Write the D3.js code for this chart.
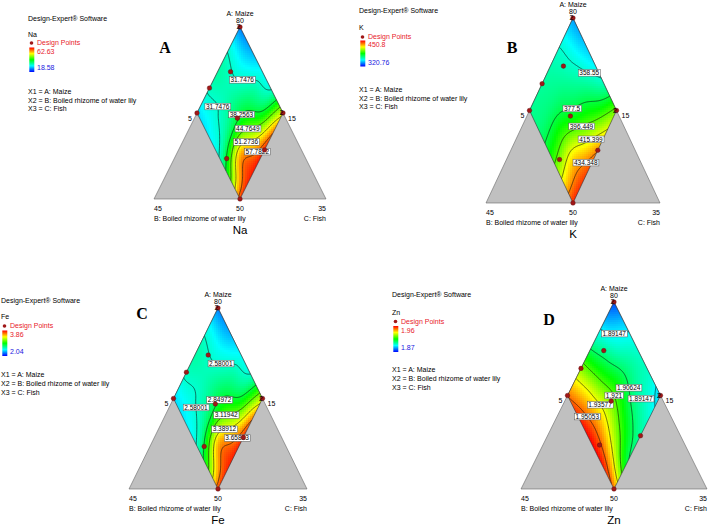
<!DOCTYPE html>
<html>
<head>
<meta charset="utf-8">
<script src="https://cdn.jsdelivr.net/npm/d3@7"></script>
<style>
  body { margin: 0; background: #fff; }
  svg { display: block; font-family: "Liberation Sans", Arial, sans-serif; }
</style>
</head>
<body>
<svg id="chart" width="709" height="526"></svg>
<script>
// Response on a 5x5 grid over the feasible region.
// rows: u = 0, .25, .5, .75, 1 (apex -> left corner), cols: v = 0 .. 1 (apex -> right corner)
const naGrid = [
  [24, 26, 29.5, 32.5, 50],
  [31, 30.5, 34, 39, 58],
  [33.5, 33, 37.5, 48, 61.5],
  [31.9, 31.8, 36.5, 55, 61.5],
  [28, 29, 31.5, 42.5, 60]
];
const kGrid = [
  [340, 345, 352, 366, 400],
  [356, 359, 368, 386, 419],
  [363, 368, 379, 405, 437],
  [366, 372, 392, 422, 444],
  [367, 372, 389, 417, 447]
];
const feGrid = [
  [2.26, 2.34, 2.49, 2.61, 3.30],
  [2.54, 2.53, 2.67, 2.88, 3.67],
  [2.65, 2.63, 2.82, 3.25, 3.81],
  [2.59, 2.58, 2.78, 3.54, 3.81],
  [2.43, 2.47, 2.57, 3.03, 3.75]
];
const znGrid = [
  [1.876, 1.889, 1.896, 1.897, 1.887],
  [1.889, 1.898, 1.905, 1.901, 1.896],
  [1.906, 1.915, 1.921, 1.913, 1.902],
  [1.930, 1.937, 1.940, 1.931, 1.911],
  [1.950, 1.957, 1.960, 1.958, 1.948]
];

const naLevels = [31.7476, 38.2563, 44.7649, 51.2736, 57.7822];
const kLevels = [358.55, 377.5, 396.449, 415.399, 434.348];
const feLevels = [2.58001, 2.84972, 3.11942, 3.38912, 3.65883];
const znLevels = [1.89147, 1.90624, 1.921, 1.93577, 1.95053];

const naRange = [18.58, 62.63];
const kRange = [320.76, 450.8];
const feRange = [2.04, 3.86];
const znRange = [1.87, 1.96];

// design runs in (u, v); the two corner runs are replicated
const designPoints = [[0, 0], [0.37, 0.15], [0.71, 0], [1, 0], [0.56, 0.5], [0, 1], [0.43, 1], [0.92, 0.61], [1, 1]];
const replicated = [[0, 0], [0, 1]];

const apexTick = '80';
const sideTicks = ['5', '15'];
const baseTicks = ['45', '50', '35'];
const axisNames = ['A: Maize', 'B: Boiled rhizome of water lily', 'C: Fish'];
const legendLines = ['X1 = A: Maize', 'X2 = B: Boiled rhizome of water lily', 'X3 = C: Fish'];
const palette = ['#0000ff', '#00ffff', '#00ff00', '#ffff00', '#ff0000'];

const panels = [
  { letter: 'A', name: 'Na', grid: naGrid, levels: naLevels, range: naRange,
    apex: [240, 27], halfBase: 86, height: 172, letterPos: [165, 53],
    legend: { x: 28, de: 19, name: 35, dp: 43, max: 52, min: 68, x1: 92, x2: 100.5, x3: 109 } },
  { letter: 'B', name: 'K', grid: kGrid, levels: kLevels, range: kRange,
    apex: [573, 18], halfBase: 87, height: 185, letterPos: [512, 53],
    legend: { x: 359, de: 11, name: 28, dp: 37, max: 45, min: 62.5, x1: 90, x2: 98.5, x3: 107 } },
  { letter: 'C', name: 'Fe', grid: feGrid, levels: feLevels, range: feRange,
    apex: [218, 308], halfBase: 89, height: 181, letterPos: [142, 319],
    legend: { x: 1, de: 300.5, name: 317, dp: 326, max: 335, min: 352, x1: 375, x2: 384, x3: 393 } },
  { letter: 'D', name: 'Zn', grid: znGrid, levels: znLevels, range: znRange,
    apex: [614, 302], halfBase: 93, height: 187, letterPos: [549, 325],
    legend: { x: 392, de: 295, name: 312.5, dp: 321.5, max: 330.5, min: 348, x1: 370, x2: 379, x3: 388 } }
];

// smooth (Catmull-Rom) surface through the read grid
function cr(p0, p1, p2, p3, t) {
  return 0.5 * (2 * p1 + (-p0 + p2) * t + (2 * p0 - 5 * p1 + 4 * p2 - p3) * t * t + (-p0 + 3 * p1 - 3 * p2 + p3) * t * t * t);
}
function interp1(arr, s) {
  const n = arr.length - 1;
  const x = s * n;
  const i = Math.min(Math.floor(x), n - 1);
  const t = x - i;
  const g = (k) => (k < 0 ? 2 * arr[0] - arr[1] : k > n ? 2 * arr[n] - arr[n - 1] : arr[k]);
  return cr(g(i - 1), g(i), g(i + 1), g(i + 2), t);
}
function surface(grid, u, v) {
  const col = grid.map((row) => interp1(row, v));
  return interp1(col, u);
}
const clamp01 = (t) => Math.max(0, Math.min(1, t));

const svg = d3.select('#chart');
const defs = svg.append('defs');

// legend gradient
const grad = defs.append('linearGradient').attr('id', 'legendGrad')
  .attr('x1', 0).attr('y1', 1).attr('x2', 0).attr('y2', 0);
palette.forEach((c, i) => grad.append('stop').attr('offset', i / (palette.length - 1)).attr('stop-color', c));

const N = 121;

panels.forEach((p, pi) => {
  const g = svg.append('g');
  const [ax, ay] = p.apex;
  const hb = p.halfBase, h = p.height;
  const xS = d3.scaleLinear().domain([-1, 1]).range([ax - hb / 2, ax + hb / 2]);
  const yS = d3.scaleLinear().domain([0, 2]).range([ay, ay + h]);
  const pos = (u, v) => [xS(v - u), yS(u + v)];
  const baseY = ay + h;
  const centre = pos(0.5, 0.5);
  const L = pos(1, 0), R = pos(0, 1);

  const [lo, hi] = p.range;
  const color = d3.scaleLinear()
    .domain(palette.map((c, i) => lo + (i * (hi - lo)) / (palette.length - 1)))
    .range(palette).clamp(true);

  // grey simplex
  g.append('path')
    .attr('d', `M${ax},${ay}L${ax - hb},${baseY}L${ax + hb},${baseY}Z`)
    .attr('fill', '#c0c0c0').attr('stroke', '#666').attr('stroke-width', 0.6);

  // clip to the feasible diamond
  const diamond = [pos(0, 0), L, pos(1, 1), R];
  defs.append('clipPath').attr('id', 'clip' + pi)
    .append('path').attr('d', 'M' + diamond.join('L') + 'Z');

  // colour raster
  const step = 2;
  const cells = [];
  for (let y = ay; y < baseY; y += step) {
    for (let x = ax - hb / 2; x < ax + hb / 2; x += step) {
      const d = xS.invert(x + step / 2), s = yS.invert(y + step / 2);
      const u = (s - d) / 2, v = (s + d) / 2;
      if (u < -0.06 || v < -0.06 || u > 1.06 || v > 1.06) continue;
      cells.push({ x, y, val: surface(p.grid, clamp01(u), clamp01(v)) });
    }
  }
  g.append('g').attr('clip-path', `url(#clip${pi})`)
    .selectAll('rect').data(cells).join('rect')
    .attr('x', (d) => d.x).attr('y', (d) => d.y)
    .attr('width', step).attr('height', step)
    .attr('shape-rendering', 'crispEdges')
    .attr('fill', (d) => color(d.val));

  // contours on the (u, v) grid
  const values = new Array(N * N);
  for (let j = 0; j < N; j++) {
    for (let i = 0; i < N; i++) {
      values[j * N + i] = surface(p.grid, j / (N - 1), i / (N - 1));
    }
  }
  const contours = d3.contours().size([N, N]).thresholds(p.levels)(values);
  const onBorder = (q) => q[0] <= 0 || q[0] >= N || q[1] <= 0 || q[1] >= N;
  const toScreen = (q) => pos(clamp01((q[1] - 0.5) / (N - 1)), clamp01((q[0] - 0.5) / (N - 1)));

  const lines = [];
  contours.forEach((c, ci) => {
    c.coordinates.forEach((poly) => poly.forEach((ring) => {
      const pts = ring.slice(0, -1);
      const n = pts.length;
      const flags = pts.map(onBorder);
      if (!flags.some((f) => f)) {
        lines.push({ level: p.levels[ci], pts: ring.map(toScreen) });
        return;
      }
      const start = flags.indexOf(true);
      let cur = null;
      for (let k = 1; k <= n; k++) {
        const idx = (start + k) % n;
        if (!flags[idx]) {
          if (!cur) cur = [pts[(idx - 1 + n) % n]];
          cur.push(pts[idx]);
        } else if (cur) {
          cur.push(pts[idx]);
          lines.push({ level: p.levels[ci], pts: cur.map(toScreen) });
          cur = null;
        }
      }
    }));
  });

  const lineGen = d3.line();
  const cg = g.append('g').attr('clip-path', `url(#clip${pi})`);
  cg.selectAll('path').data(lines).join('path')
    .attr('d', (d) => lineGen(d.pts))
    .attr('fill', 'none').attr('stroke', '#111').attr('stroke-width', 0.6);

  // diamond outline
  g.append('path').attr('d', 'M' + diamond.join('L') + 'Z')
    .attr('fill', 'none').attr('stroke', '#333').attr('stroke-width', 0.6);

  // side tick positions (kept clear of contour labels)
  const tickL = [L[0] - 5, L[1] + 5.5], tickR = [R[0] + 5, R[1] + 5.5];

  // contour labels: on each branch, at the point nearest the centre of the region,
  // slid along the line when it would cover another text
  lines.forEach((l) => {
    l.cum = [0];
    let total = 0;
    for (let k = 1; k < l.pts.length; k++) {
      total += Math.hypot(l.pts[k][0] - l.pts[k - 1][0], l.pts[k][1] - l.pts[k - 1][1]);
      l.cum.push(total);
    }
    l.total = total;
    let best = 0, bd = Infinity;
    l.pts.forEach((q, k) => {
      const dd = Math.hypot(q[0] - centre[0], q[1] - centre[1]);
      if (dd < bd) { bd = dd; best = k; }
    });
    l.near = l.cum[best];
    l.dist = bd;
  });
  const pointAt = (l, len) => {
    let k = l.cum.findIndex((c) => c >= len);
    if (k < 1) k = 1;
    const t = (len - l.cum[k - 1]) / (l.cum[k] - l.cum[k - 1] || 1);
    return [l.pts[k - 1][0] + t * (l.pts[k][0] - l.pts[k - 1][0]), l.pts[k - 1][1] + t * (l.pts[k][1] - l.pts[k - 1][1])];
  };
  const placed = [
    [tickL[0] - 5, tickL[1] - 3.5, tickL[0], tickL[1] + 3.5],
    [tickR[0], tickR[1] - 3.5, tickR[0] + 9, tickR[1] + 3.5]
  ];
  replicated.forEach((d) => {
    const q = pos(d[0], d[1]);
    placed.push([q[0] - 3.5, q[1] - 3.5, q[0] + 0.5, q[1] + 3.5]);
  });
  const hits = (box) => placed.some((b) => box[0] < b[2] + 1 && box[2] > b[0] - 1 && box[1] < b[3] + 0.5 && box[3] > b[1] - 0.5);
  const labels = [];
  lines.filter((l) => l.total >= 8).sort((a, b) => a.dist - b.dist).forEach((l) => {
    const text = String(l.level);
    const w = text.length * 3.62 + 2, hh = 7;
    const lo2 = Math.min(w / 2, l.total / 2), hi2 = Math.max(l.total - w / 2, l.total / 2);
    let chosen = null;
    for (let k = 0; k < 40 && !chosen; k++) {
      const off = (k % 2 ? 1 : -1) * Math.ceil(k / 2) * 3;
      const len = l.near + off;
      if (len < lo2 || len > hi2) continue;
      const q = pointAt(l, len);
      const box = [q[0] - w / 2, q[1] - hh / 2, q[0] + w / 2, q[1] + hh / 2];
      if (!hits(box)) { chosen = q; placed.push(box); }
    }
    if (!chosen) {
      // short branch: shift the label into nearby free space
      const q = pointAt(l, l.total / 2);
      for (const dy of [-2, 2, 4, -5, 6]) {
        for (let dx = 0; dx <= 30 && !chosen; dx += 2) {
          const c = [q[0] - dx, q[1] + dy];
          const box = [c[0] - w / 2, c[1] - hh / 2, c[0] + w / 2, c[1] + hh / 2];
          if (!hits(box)) { chosen = c; placed.push(box); }
        }
        if (chosen) break;
      }
      if (!chosen) chosen = q;
    }
    labels.push({ text, x: chosen[0], y: chosen[1] });
  });
  const lg = g.append('g').selectAll('g').data(labels).join('g')
    .attr('transform', (d) => `translate(${d.x},${d.y})`);
  lg.append('text').attr('text-anchor', 'middle').attr('dy', '0.35em')
    .attr('font-size', 6.5).attr('fill', '#000').text((d) => d.text)
    .each(function () {
      const b = this.getBBox();
      d3.select(this.parentNode).insert('rect', 'text')
        .attr('x', b.x - 1).attr('y', -3.3).attr('width', b.width + 2).attr('height', 6.6)
        .attr('fill', '#fff').attr('stroke', '#555').attr('stroke-width', 0.5);
    });

  // design points
  g.append('g').selectAll('circle').data(designPoints).join('circle')
    .attr('cx', (d) => pos(d[0], d[1])[0]).attr('cy', (d) => pos(d[0], d[1])[1])
    .attr('r', 2.3).attr('fill', '#a01818').attr('stroke', '#5a0a0a').attr('stroke-width', 0.4);
  g.append('g').selectAll('text').data(replicated).join('text')
    .attr('x', (d) => pos(d[0], d[1])[0] + 0.5).attr('y', (d) => pos(d[0], d[1])[1])
    .attr('dy', '0.35em').attr('text-anchor', 'end').attr('font-size', 7).text('2');

  // axis text
  const txt = (x, y, s, anchor, size) => g.append('text').attr('x', x).attr('y', y).attr('dy', '0.35em')
    .attr('text-anchor', anchor).attr('font-size', size || 7).attr('fill', '#000').text(s);
  txt(ax, ay - 13.5, axisNames[0], 'middle');
  txt(ax, ay - 6.5, apexTick, 'middle');
  txt(tickL[0], tickL[1], sideTicks[0], 'end');
  txt(tickR[0], tickR[1], sideTicks[1], 'start');
  txt(ax - hb, baseY + 10, baseTicks[0], 'start');
  txt(ax, baseY + 10, baseTicks[1], 'middle');
  txt(ax + hb, baseY + 10, baseTicks[2], 'end');
  txt(ax - hb, baseY + 19.5, axisNames[1], 'start');
  txt(ax + hb, baseY + 19.5, axisNames[2], 'end');
  txt(ax, baseY + 31, p.name, 'middle', 11.5);

  // panel letter
  g.append('text').attr('x', p.letterPos[0]).attr('y', p.letterPos[1])
    .attr('text-anchor', 'middle').attr('font-family', '"Liberation Serif", "Times New Roman", serif')
    .attr('font-weight', 'bold').attr('font-size', 16).text(p.letter);

  // legend
  const lgd = p.legend;
  txt(lgd.x, lgd.de, 'Design-Expert® Software', 'start');
  txt(lgd.x, lgd.name, p.name, 'start');
  g.append('circle').attr('cx', lgd.x + 3.5).attr('cy', lgd.dp).attr('r', 1.8).attr('fill', '#a01818');
  txt(lgd.x + 9, lgd.dp, 'Design Points', 'start').attr('fill', '#e8202a');
  g.append('rect').attr('x', lgd.x + 1.3).attr('y', lgd.max - 4.5)
    .attr('width', 5).attr('height', lgd.min - lgd.max + 8.5).attr('fill', 'url(#legendGrad)');
  txt(lgd.x + 9, lgd.max, String(hi), 'start').attr('fill', '#e8202a');
  txt(lgd.x + 9, lgd.min, String(lo), 'start').attr('fill', '#2020e0');
  txt(lgd.x, lgd.x1, legendLines[0], 'start');
  txt(lgd.x, lgd.x2, legendLines[1], 'start');
  txt(lgd.x, lgd.x3, legendLines[2], 'start');
});
</script>
</body>
</html>
